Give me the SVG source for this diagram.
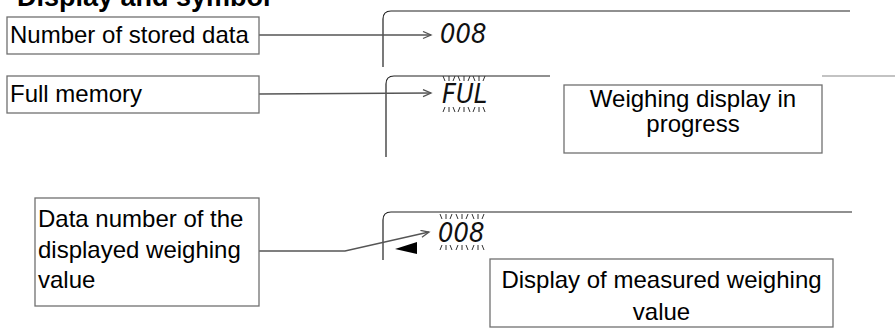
<svg xmlns="http://www.w3.org/2000/svg" xmlns:xlink="http://www.w3.org/1999/xlink" width="895" height="329" viewBox="0 0 895 329">
<style>
.box{fill:#fff;stroke:#707070;stroke-width:1.3}
.lbl{font-family:"Liberation Sans",Arial,sans-serif;font-size:24px;fill:#000}
.ctr{text-anchor:middle}
.title{font-family:"Liberation Sans",Arial,sans-serif;font-size:27px;font-weight:bold;fill:#000}
.frame{fill:none;stroke:#222;stroke-width:1.2}
.conn{fill:none;stroke:#555;stroke-width:1.3}
.lcd{font-family:"DejaVu Sans Condensed","DejaVu Sans",sans-serif;font-style:italic;font-size:27px;fill:#111}
.tick{fill:none;stroke:#333;stroke-width:1}
</style>
<defs>
<marker id="arr" markerUnits="userSpaceOnUse" markerWidth="12" markerHeight="10" refX="9" refY="4" orient="auto">
<path d="M1,0.5 L9,4 L1,7.5" fill="none" stroke="#555" stroke-width="1.3"/>
</marker>
<g id="blink" class="tick">
<path d="M-6,-8 L-4,-3 M0,-8 V-3 M6,-8 L4,-3 M-6,28 L-4,23 M0,28 V23 M6,28 L4,23"/>
</g>
</defs>

<text class="title" x="17" y="6">Display and symbol</text>

<g id="lcd-frames">
<path class="frame" d="M383,67 V19 Q383,11 391,11 H850"/>
<path class="frame" d="M386,157 V84 Q386,76 394,76 H550"/>
<path d="M822,76 H895" fill="none" stroke="#888" stroke-width="1.2"/>
<path class="frame" d="M383,260 V220 Q383,212 391,212 H852"/>
</g>

<g id="lcd-stored">
<text class="lcd" x="440" y="43">008</text>
</g>
<g id="lcd-full">
<text class="lcd" x="442" y="103">FUL</text>
<use xlink:href="#blink" x="449" y="84"/>
<use xlink:href="#blink" x="464" y="84"/>
<use xlink:href="#blink" x="479" y="84"/>
</g>
<g id="lcd-datanum">
<text class="lcd" x="438" y="242">008</text>
<use xlink:href="#blink" x="446" y="222"/>
<use xlink:href="#blink" x="462" y="222"/>
<use xlink:href="#blink" x="478" y="222"/>
<polygon points="395,249 417,242 417,254" fill="#000"/>
</g>

<g id="connectors">
<path class="conn" d="M259,35 H431" marker-end="url(#arr)"/>
<path class="conn" d="M259,94 L431,93" marker-end="url(#arr)"/>
<path class="conn" d="M259,251 H345 L429,232" marker-end="url(#arr)"/>
</g>

<g id="n-stored">
<rect class="box" x="7" y="17" width="252" height="37"/>
<text class="lbl" x="10" y="43">Number of stored data</text>
</g>
<g id="n-full">
<rect class="box" x="7" y="76" width="252" height="37"/>
<text class="lbl" x="10" y="102">Full memory</text>
</g>
<g id="n-datanum">
<rect class="box" x="35" y="198" width="224" height="108"/>
<text class="lbl" x="38" y="227">Data number of the</text>
<text class="lbl" x="38" y="258">displayed weighing</text>
<text class="lbl" x="38" y="288">value</text>
</g>
<g id="n-progress">
<rect class="box" x="564" y="85" width="258" height="68"/>
<text class="lbl ctr" x="693" y="107">Weighing display in</text>
<text class="lbl ctr" x="693" y="132">progress</text>
</g>
<g id="n-measured">
<rect class="box" x="490" y="259" width="343" height="68"/>
<text class="lbl ctr" x="661.5" y="288">Display of measured weighing</text>
<text class="lbl ctr" x="661.5" y="320">value</text>
</g>
</svg>
